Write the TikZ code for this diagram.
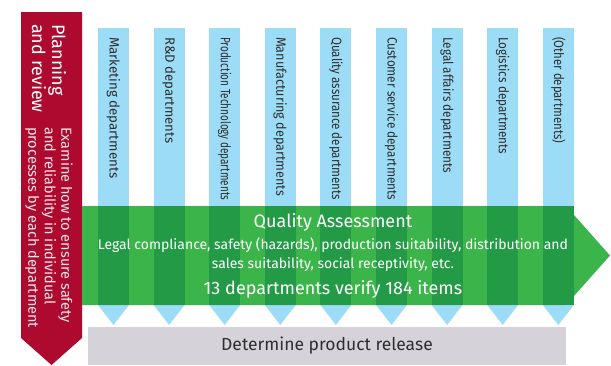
\documentclass[tikz,border=0pt]{standalone}
\usepackage{fontspec}
\setmainfont{Fira Sans}
\usetikzlibrary{positioning}
\definecolor{review}{HTML}{AE0A30}
\definecolor{dept}{HTML}{9DDCF6}
\definecolor{assess}{HTML}{3BB54A}
\definecolor{assessdark}{HTML}{239B46}
\definecolor{release}{HTML}{D6D2D9}
\definecolor{depttext}{HTML}{2E2E2E}

\begin{document}
\begin{tikzpicture}[x=1pt, y=-1pt,
  deptlabel/.style={rotate=-90, anchor=west, inner sep=0pt, text=depttext,
    font=\fontsize{13.5}{15}\selectfont}]
  \useasboundingbox (0,0) rectangle (611,365);
  % Planning and review arrow
  \fill[review] (21,12) -- (82,12) -- (82,338) -- (51.5,365) -- (21,338) -- cycle;
  \node[rotate=-90, anchor=west, align=left, inner sep=0pt, text=white,
    font=\fontsize{18}{20}\selectfont] (plan) at (49,24) {Planning\\and review};
  \node[rotate=-90, anchor=west, align=left, inner sep=0pt, text=white!90!review,
    font=\fontsize{14.5}{16.5}\selectfont] (examine) at (49,127)
    {Examine how to ensure safety\\and reliability in individual\\processes by each department};
  % Department columns (label lengths follow the original)
  \foreach \lbl/\len [count=\i] in {Marketing departments/141, R\&D departments/106,
      Production Technology departments/163, Manufacturing departments/159,
      Quality assurance departments/163, Customer service departments/163,
      Legal affairs departments/136, Logistics departments/117,
      (Other departments)/106} {
    \pgfmathsetmacro{\cx}{113.5+55.6*(\i-1)}
    \fill[dept] (\cx-15.5,28) rectangle (\cx+15.5,305);
    \fill[dept] (\cx-15.5,305) -- (\cx+15.5,305) -- (\cx,325) -- cycle;
    \node[deptlabel] (dept\i) at (\cx,37) {\resizebox{\len pt}{\height}{\lbl}};
  }
  % Quality assessment band
  \fill[assess] (82,206) -- (566,206) -- (610,255.5) -- (566,305) -- (82,305) -- cycle;
  \foreach \i in {0,...,8}
    \fill[assessdark] ({98+55.6*\i},206) rectangle ({129+55.6*\i},305);
  \node[text=white, font=\fontsize{18}{20}\selectfont] (qa) at (333,222) {Quality Assessment};
  \node[text=white, align=center, font=\fontsize{14}{19}\selectfont] (qadesc) at (333,254.5)
    {Legal compliance, safety (hazards), production suitability, distribution and\\
     sales suitability, social receptivity, etc.};
  \node[text=white, font=\fontsize{18}{20}\selectfont] (qacount) at (333,289)
    {13 departments verify 184 items};
  % Product release
  \fill[release] (88,327) rectangle (566,365);
  \node[text=depttext, font=\fontsize{17.5}{19}\selectfont] (release) at (327,346)
    {Determine product release};
\end{tikzpicture}
\end{document}
